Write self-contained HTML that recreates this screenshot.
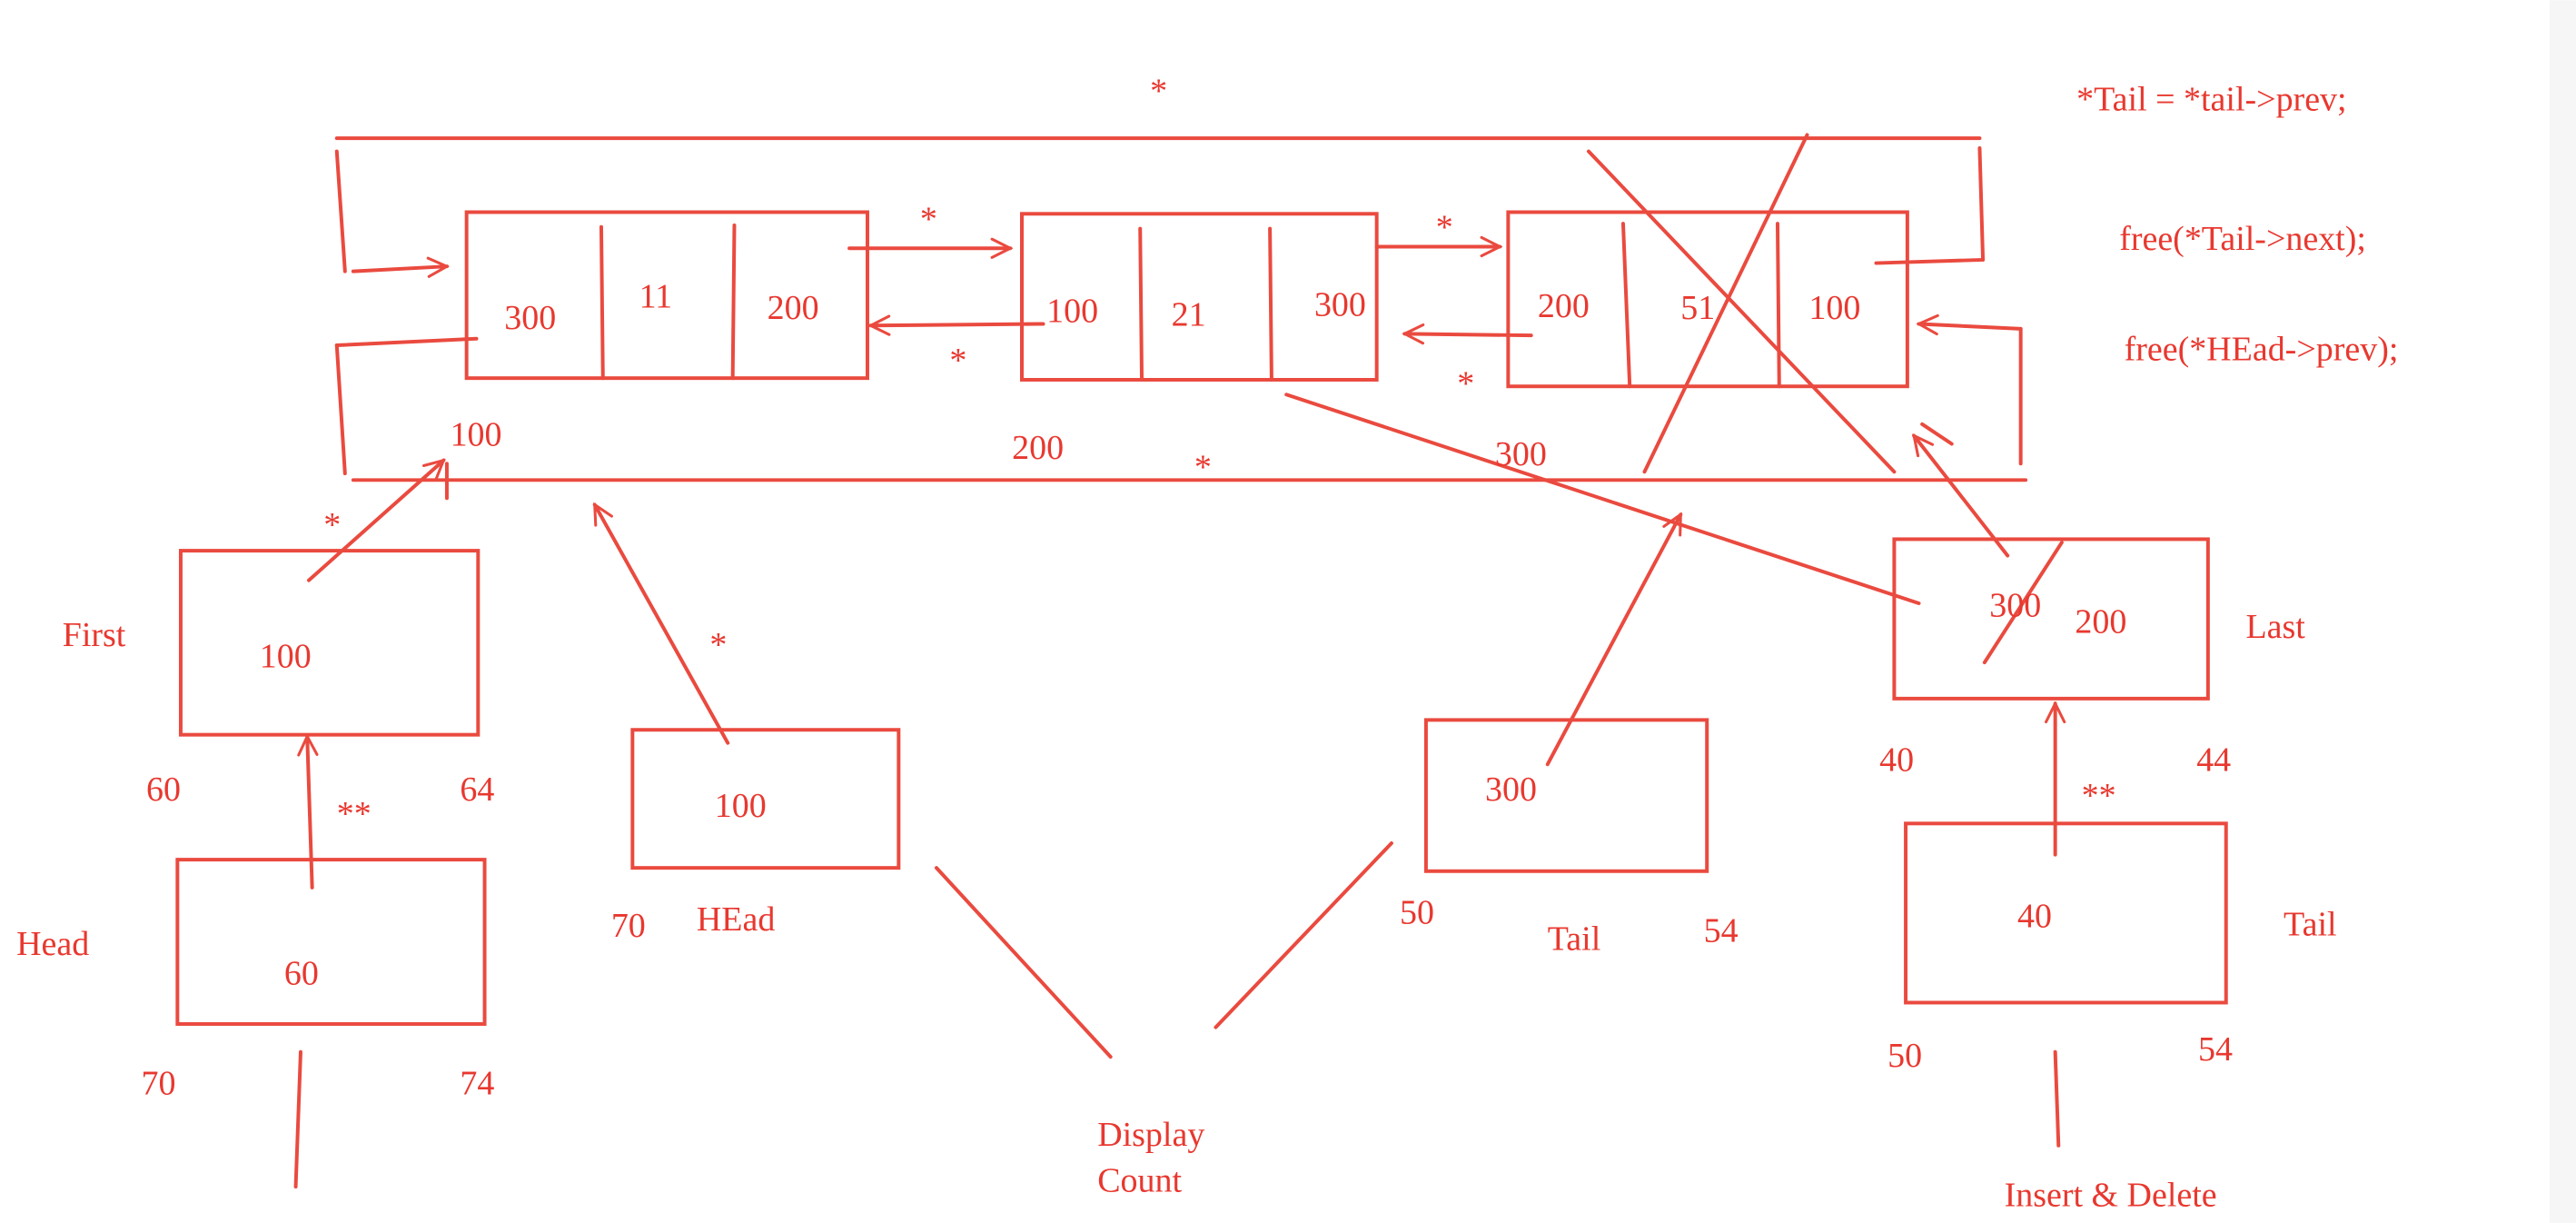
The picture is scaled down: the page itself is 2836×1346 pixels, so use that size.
<!DOCTYPE html>
<html><head><meta charset="utf-8"><style>
html,body{margin:0;padding:0;background:#fff;}
svg{display:block;}
text{font-family:"Liberation Serif",serif;fill:#e8382f;font-size:21px;}
line,rect,polyline{stroke:#ea4a3f;stroke-width:2.2;fill:none;stroke-linecap:round;}
</style></head><body>
<svg width="2836" height="1346" viewBox="0 0 1568 744" xmlns="http://www.w3.org/2000/svg">
<defs><marker id="ah" viewBox="0 0 20 20" refX="18" refY="10" markerWidth="14" markerHeight="14" markerUnits="userSpaceOnUse" orient="auto"><polyline points="2,2 18,10 2,18" style="stroke:#ea4a3f;stroke-width:2.4;fill:none"/></marker></defs>
<rect x="1552" y="0" width="16" height="744" style="fill:#f6f6f6;stroke:none"/>
<g>
<line x1="205" y1="84" x2="1205" y2="84"/>
<line x1="205" y1="92" x2="210" y2="165"/>
<line x1="215" y1="165" x2="272" y2="162" marker-end="url(#ah)"/>
<line x1="205" y1="210" x2="290" y2="206"/>
<line x1="205" y1="210" x2="210" y2="288"/>
<line x1="215" y1="292" x2="1233" y2="292"/>
<line x1="1142" y1="160" x2="1207" y2="158"/>
<line x1="1205" y1="90" x2="1207" y2="158"/>
<line x1="1230" y1="200" x2="1168" y2="197" marker-end="url(#ah)"/>
<line x1="1230" y1="200" x2="1230" y2="282"/>
</g>
<g>
<rect x="284" y="129" width="244" height="101"/>
<line x1="366" y1="138" x2="367" y2="230"/><line x1="447" y1="137" x2="446" y2="230"/>
<text x="307" y="200">300</text><text x="389" y="187">11</text><text x="467" y="194">200</text>
</g>
<g>
<rect x="622" y="130" width="216" height="101"/>
<line x1="694" y1="139" x2="695" y2="231"/><line x1="773" y1="139" x2="774" y2="231"/>
<text x="637" y="196">100</text><text x="713" y="198">21</text><text x="800" y="192">300</text>
</g>
<g>
<rect x="918" y="129" width="243" height="106"/>
<line x1="988" y1="136" x2="992" y2="235"/><line x1="1082" y1="136" x2="1083" y2="235"/>
<text x="936" y="193">200</text><text x="1023" y="194">51</text><text x="1101" y="194">100</text>
<line x1="967" y1="92" x2="1153" y2="287"/><line x1="1100" y1="82" x2="1001" y2="287"/>
</g>
<g>
<line x1="517" y1="151" x2="615" y2="151" marker-end="url(#ah)"/>
<line x1="635" y1="197" x2="530" y2="198" marker-end="url(#ah)"/>
<line x1="838" y1="150" x2="913" y2="150" marker-end="url(#ah)"/>
<line x1="932" y1="204" x2="855" y2="203" marker-end="url(#ah)"/>
<line x1="783" y1="240" x2="1168" y2="367"/>
</g>
<text x="700" y="62">*</text><text x="560" y="140">*</text><text x="578" y="226">*</text>
<text x="874" y="145">*</text><text x="887" y="240">*</text><text x="727" y="291">*</text>
<text x="274" y="271">100</text><text x="616" y="279">200</text><text x="910" y="283">300</text>
<text x="1264" y="67">*Tail = *tail-&gt;prev;</text>
<text x="1290" y="152">free(*Tail-&gt;next);</text>
<text x="1293" y="219">free(*HEad-&gt;prev);</text>
<g>
<rect x="110" y="335" width="181" height="112"/>
<line x1="188" y1="353" x2="270" y2="280" marker-end="url(#ah)"/>
<line x1="272" y1="282" x2="272" y2="303"/>
<text x="197" y="326">*</text><text x="158" y="406">100</text><text x="38" y="393">First</text>
<text x="89" y="487">60</text><text x="280" y="487">64</text>
</g>
<g>
<rect x="108" y="523" width="187" height="100"/>
<line x1="190" y1="540" x2="187" y2="448" marker-end="url(#ah)"/>
<line x1="183" y1="640" x2="180" y2="722"/>
<text x="205" y="502">**</text><text x="173" y="599">60</text><text x="10" y="581">Head</text>
<text x="86" y="666">70</text><text x="280" y="666">74</text>
</g>
<g>
<rect x="385" y="444" width="162" height="84"/>
<line x1="443" y1="452" x2="362" y2="307" marker-end="url(#ah)"/>
<text x="432" y="399">*</text><text x="435" y="497">100</text>
<text x="372" y="570">70</text><text x="424" y="566">HEad</text>
</g>
<line x1="570" y1="528" x2="676" y2="643"/><line x1="740" y1="625" x2="847" y2="513"/>
<text x="668" y="697">Display</text><text x="668" y="725">Count</text>
<g>
<rect x="868" y="438" width="171" height="92"/>
<line x1="942" y1="465" x2="1023" y2="313" marker-end="url(#ah)"/>
<text x="904" y="487">300</text><text x="852" y="562">50</text><text x="942" y="578">Tail</text><text x="1037" y="573">54</text>
</g>
<g>
<rect x="1153" y="328" width="191" height="97"/>
<line x1="1222" y1="338" x2="1165" y2="265" marker-end="url(#ah)"/>
<line x1="1170" y1="258" x2="1188" y2="270"/>
<line x1="1208" y1="403" x2="1255" y2="330"/>
<text x="1211" y="375">300</text><text x="1263" y="385">200</text><text x="1367" y="388">Last</text>
<text x="1144" y="469">40</text><text x="1337" y="469">44</text>
</g>
<g>
<rect x="1160" y="501" width="195" height="109"/>
<line x1="1251" y1="520" x2="1251" y2="428" marker-end="url(#ah)"/>
<line x1="1251" y1="640" x2="1253" y2="697"/>
<text x="1267" y="491">**</text><text x="1228" y="564">40</text><text x="1390" y="569">Tail</text>
<text x="1149" y="649">50</text><text x="1338" y="645">54</text>
<text x="1220" y="734">Insert &amp; Delete</text>
</g>
</svg>
</body></html>
